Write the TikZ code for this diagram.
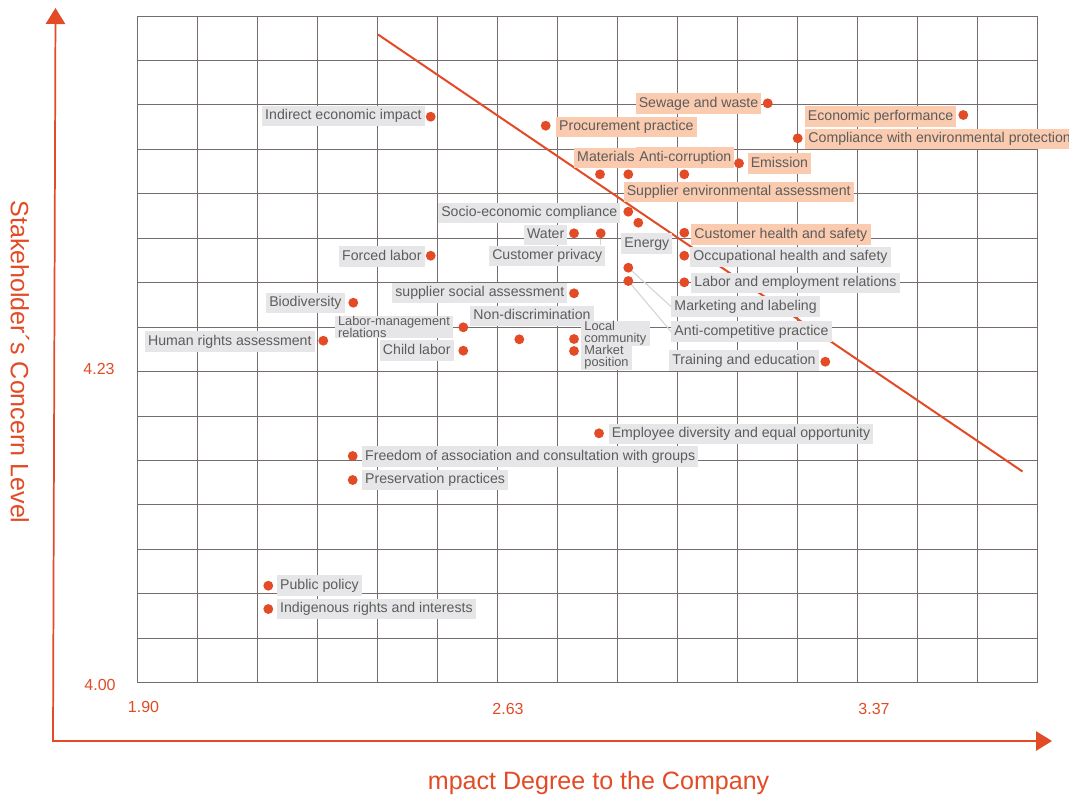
\documentclass[tikz,border=0pt]{standalone}
\usepackage{fontspec}
\setmainfont{Liberation Sans}
\usetikzlibrary{arrows.meta}
\definecolor{accent}{HTML}{E24B26}
\definecolor{boxg}{HTML}{E6E6E8}
\definecolor{boxo}{HTML}{FBCBAF}
\definecolor{txt}{HTML}{5C5C5C}
\definecolor{gridc}{HTML}{756D6D}
\definecolor{leader}{HTML}{D4D4D4}
\newcommand\labfont{\fontsize{10.6}{12}\selectfont}
\newcommand\labtwo{\fontsize{9.6}{9}\selectfont}
\newcommand\axfont{\fontsize{18.8}{20}\selectfont}
\newcommand\tickfont{\fontsize{12}{14}\selectfont}
\begin{document}
\begin{tikzpicture}[x=0.75pt,y=-0.75pt,
  gridline/.style={draw=gridc, line width=0.75pt},
  lab/.style={font=\labfont, text=txt, inner xsep=2.4pt, inner ysep=2.6pt, text height=7.7pt, text depth=2.3pt},
  lg/.style={lab, fill=boxg},
  lo/.style={lab, fill=boxo},
  lg2/.style={font=\labtwo, text=txt, fill=boxg, align=left, inner xsep=2.4pt, inner ysep=0.2pt},
  dot/.style={circle, fill=accent, inner sep=0pt, minimum size=7.4pt},
  tick/.style={font=\tickfont, text=accent},
  axtitle/.style={font=\axfont, text=accent},
  leadline/.style={draw=leader, line width=0.8pt}
]
\useasboundingbox[fill=white] (0,0) rectangle (1069,797);
% grid
\foreach \i in {0,...,15} \draw[gridline] ({137+60*\i},16) -- ({137+60*\i},682.7);
\foreach \i in {0,...,15} \draw[gridline] (137,{16+44.4444*\i}) -- (1037,{16+44.4444*\i});
% axes
\coordinate (yt) at (55.5,8);
\coordinate (o) at (53,741);
\coordinate (xt) at (1052,741);
\draw[accent, line width=1.3pt, {Triangle[width=14.5pt,length=12pt]}-{Triangle[width=14.5pt,length=12pt]}] (yt) -- (o) -- (xt);
\node[axtitle, rotate=-90] (ylab) at (20,362) {Stakeholder´s Concern Level};
\node[axtitle] (xlab) at (598.6,783) {mpact Degree to the Company};
\node[tick] (t423) at (99,368.5) {4.23};
\node[tick] (t400) at (100,685) {4.00};
\node[tick] (t190) at (143.5,706.5) {1.90};
\node[tick] (t263) at (508,709) {2.63};
\node[tick] (t337) at (874,709) {3.37};
% trend line
\coordinate (tr1) at (378,34.5);
\coordinate (tr2) at (1022.5,471.5);
\draw[accent, line width=1.5pt] (tr1) -- (tr2);
% labels
\node[lg, anchor=east] (l1) at (425,116) {Indirect economic impact};
\node[lo, anchor=west] (l2) at (555.7,127) {Procurement practice};
\node[lo, anchor=east] (l3) at (761.7,103.6) {Sewage and waste};
\node[lo, anchor=east] (l4) at (956.7,116.5) {Economic performance};
\node[lo, anchor=west] (l5) at (805,139) {Compliance with environmental protection};
\node[lo] (l6) at (605.9,157.8) {Materials};
\node[lo] (l8) at (685.3,157.6) {Anti-corruption};
\node[lo, anchor=west] (l9) at (747.3,163.5) {Emission};
\node[lo, anchor=west] (l7) at (623.3,192) {Supplier environmental assessment};
\node[lg, anchor=east] (l10) at (620.7,213) {Socio-economic compliance};
\node[lg, anchor=west] (l11) at (621,243.6) {Energy};
\node[lg, anchor=east] (l12) at (567.7,234.8) {Water};
\node[lg, anchor=east] (l13) at (605.7,255.8) {Customer privacy};
\node[lo, anchor=west] (l14) at (691,234.6) {Customer health and safety};
\node[lg, anchor=west] (l15) at (690,257.3) {Occupational health and safety};
\node[lg, anchor=west] (l16) at (691,282.8) {Labor and employment relations};
\node[lg, anchor=west] (l17) at (671,306.6) {Marketing and labeling};
\node[lg, anchor=west] (l18) at (671,331.6) {Anti-competitive practice};
\node[lg, anchor=east] (l19) at (819,360.6) {Training and education};
\node[lg, anchor=east] (l20) at (425,256.6) {Forced labor};
\node[lg, anchor=east] (l21) at (345,303.3) {Biodiversity};
\node[lg2, anchor=east] (l22) at (453.3,326.7) {Labor-management\\relations};
\node[lg, anchor=east] (l23) at (315,341.5) {Human rights assessment};
\node[lg, anchor=east] (l24) at (454,350.6) {Child labor};
\node[lg, anchor=east] (l25) at (567.7,293.3) {supplier social assessment};
\node[lg, anchor=west] (l26) at (470,316.3) {Non-discrimination};
\node[lg2, anchor=west] (l27) at (581,333.3) {Local\\community};
\node[lg2, anchor=west] (l28) at (581,357.6) {Market\\position};
\node[lg, anchor=west] (l29) at (608.3,434) {Employee diversity and equal opportunity};
\node[lg, anchor=west] (l30) at (361.7,456.6) {Freedom of association and consultation with groups};
\node[lg, anchor=west] (l31) at (361.7,480) {Preservation practices};
\node[lg, anchor=west] (l32) at (276.7,585.6) {Public policy};
\node[lg, anchor=west] (l33) at (276.7,609) {Indigenous rights and interests};
% dots
\node[dot] (d1) at (430.7,116.7) {};
\node[dot] (d2) at (545.7,125.7) {};
\node[dot] (d3) at (767.7,103.3) {};
\node[dot] (d4) at (963.3,115) {};
\node[dot] (d5) at (797.7,138.3) {};
\node[dot] (d6) at (600,174.3) {};
\node[dot] (d7) at (628.3,174.3) {};
\node[dot] (d8) at (684.3,174.3) {};
\node[dot] (d9) at (739,163.3) {};
\node[dot] (d10) at (628.3,211.7) {};
\node[dot] (d11) at (638.3,222.7) {};
\node[dot] (d12) at (574,233.3) {};
\node[dot] (d13) at (600.7,233.3) {};
\node[dot] (d14) at (684.3,232.7) {};
\node[dot] (d15) at (684.3,255.7) {};
\node[dot] (d16) at (684.3,282.3) {};
\node[dot] (d17) at (628.3,267.7) {};
\node[dot] (d18) at (628.3,281) {};
\node[dot] (d19) at (825.3,361.7) {};
\node[dot] (d20) at (430.7,255.7) {};
\node[dot] (d21) at (353.3,302.7) {};
\node[dot] (d22) at (463.3,327.3) {};
\node[dot] (d23) at (323.3,340.7) {};
\node[dot] (d24) at (463.3,350.7) {};
\node[dot] (d25) at (574,293.3) {};
\node[dot] (d26) at (519.3,339.3) {};
\node[dot] (d27) at (574,339) {};
\node[dot] (d28) at (574,351) {};
\node[dot] (d29) at (599,433.3) {};
\node[dot] (d30) at (352.7,456) {};
\node[dot] (d31) at (352.7,480) {};
\node[dot] (d32) at (268.3,585.7) {};
\node[dot] (d33) at (268.3,609) {};
% leader lines
\draw[leadline] (d17) -- (l17.west);
\draw[leadline] (d18) -- (l18.west);
\draw[leadline] (d13) -- (d13 |- l13.north);
\end{tikzpicture}
\end{document}
